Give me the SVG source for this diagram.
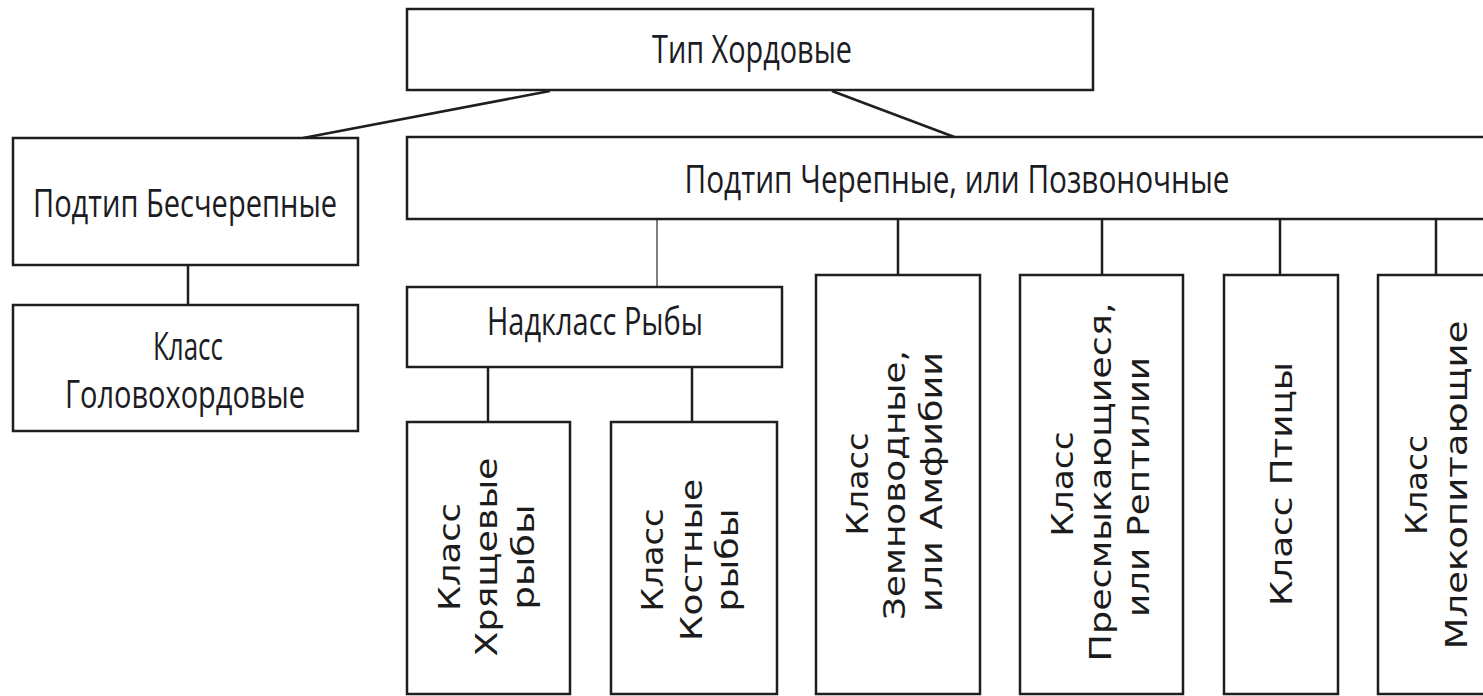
<svg xmlns="http://www.w3.org/2000/svg" width="1483" height="696" viewBox="0 0 1483 696">
<style>
.box{fill:#ffffff;stroke:#1e1e1e;stroke-width:2.5}
.h{font-family:"Open Sans","Liberation Sans",sans-serif;font-size:38px;fill:#1c1c24;text-anchor:middle}
.v{font-family:"DejaVu Sans","Liberation Sans",sans-serif;font-size:30px;fill:#1c1c1c;text-anchor:middle}
.ln{stroke:#1e1e1e;stroke-width:2.5;fill:none}
.lg{stroke:#707070;stroke-width:1.8;fill:none}
</style>
<rect width="1483" height="696" fill="#ffffff"/>
<g id="connectors">
<line class="ln" x1="550" y1="91" x2="303" y2="138"/>
<line class="ln" x1="832" y1="91" x2="957" y2="138"/>
<line class="ln" x1="188" y1="265" x2="188" y2="305"/>
<line class="lg" x1="657" y1="219" x2="657" y2="287"/>
<line class="ln" x1="488" y1="367" x2="488" y2="422"/>
<line class="ln" x1="692" y1="367" x2="692" y2="422"/>
<line class="ln" x1="898" y1="219" x2="898" y2="275"/>
<line class="ln" x1="1102" y1="219" x2="1102" y2="275"/>
<line class="ln" x1="1280" y1="219" x2="1280" y2="275"/>
<line class="ln" x1="1436" y1="219" x2="1436" y2="275"/>
</g>
<g id="n-chordata">
<rect class="box" x="407" y="9" width="686" height="81"/>
<text class="h" x="752" y="63" textLength="200" lengthAdjust="spacingAndGlyphs">Тип Хордовые</text>
</g>
<g id="n-acrania">
<rect class="box" x="13" y="138" width="345" height="127"/>
<text class="h" x="185" y="217" textLength="304" lengthAdjust="spacingAndGlyphs">Подтип Бесчерепные</text>
</g>
<g id="n-cephalochordata">
<rect class="box" x="13" y="305" width="345" height="126"/>
<text class="h" x="188" y="360" textLength="70" lengthAdjust="spacingAndGlyphs">Класс</text>
<text class="h" x="185" y="408" textLength="240" lengthAdjust="spacingAndGlyphs">Головохордовые</text>
</g>
<g id="n-vertebrata">
<rect class="box" x="407" y="137" width="1090" height="82"/>
<text class="h" x="957" y="193" textLength="545" lengthAdjust="spacingAndGlyphs">Подтип Черепные, или Позвоночные</text>
</g>
<g id="n-pisces">
<rect class="box" x="407" y="287" width="375" height="80"/>
<text class="h" x="595" y="335" textLength="216" lengthAdjust="spacingAndGlyphs">Надкласс Рыбы</text>
</g>
<g id="n-chondrichthyes">
<rect class="box" x="407" y="422" width="163" height="272"/>
<text class="v" transform="translate(460,557) rotate(-90)" textLength="108" lengthAdjust="spacingAndGlyphs">Класс</text>
<text class="v" transform="translate(497,557) rotate(-90)" textLength="199" lengthAdjust="spacingAndGlyphs">Хрящевые</text>
<text class="v" transform="translate(534,557) rotate(-90)" textLength="105" lengthAdjust="spacingAndGlyphs">рыбы</text>
</g>
<g id="n-osteichthyes">
<rect class="box" x="611" y="422" width="166" height="272"/>
<text class="v" transform="translate(663,560) rotate(-90)" textLength="103" lengthAdjust="spacingAndGlyphs">Класс</text>
<text class="v" transform="translate(702,560) rotate(-90)" textLength="162" lengthAdjust="spacingAndGlyphs">Костные</text>
<text class="v" transform="translate(738,560) rotate(-90)" textLength="103" lengthAdjust="spacingAndGlyphs">рыбы</text>
</g>
<g id="n-amphibia">
<rect class="box" x="816" y="275" width="164" height="419"/>
<text class="v" transform="translate(868,484) rotate(-90)" textLength="103" lengthAdjust="spacingAndGlyphs">Класс</text>
<text class="v" transform="translate(905,485) rotate(-90)" textLength="270" lengthAdjust="spacingAndGlyphs">Земноводные,</text>
<text class="v" transform="translate(942,482) rotate(-90)" textLength="260" lengthAdjust="spacingAndGlyphs">или Амфибии</text>
</g>
<g id="n-reptilia">
<rect class="box" x="1020" y="275" width="163" height="419"/>
<text class="v" transform="translate(1073,484) rotate(-90)" textLength="105" lengthAdjust="spacingAndGlyphs">Класс</text>
<text class="v" transform="translate(1111,482) rotate(-90)" textLength="359" lengthAdjust="spacingAndGlyphs">Пресмыкающиеся,</text>
<text class="v" transform="translate(1149,487) rotate(-90)" textLength="260" lengthAdjust="spacingAndGlyphs">или Рептилии</text>
</g>
<g id="n-aves">
<rect class="box" x="1224" y="275" width="114" height="419"/>
<text class="v" transform="translate(1292,484) rotate(-90)" textLength="244" lengthAdjust="spacingAndGlyphs">Класс Птицы</text>
</g>
<g id="n-mammalia">
<rect class="box" x="1378" y="275" width="120" height="419"/>
<text class="v" transform="translate(1427,485) rotate(-90)" textLength="100" lengthAdjust="spacingAndGlyphs">Класс</text>
<text class="v" transform="translate(1467,485) rotate(-90)" textLength="329" lengthAdjust="spacingAndGlyphs">Млекопитающие</text>
</g>
</svg>
